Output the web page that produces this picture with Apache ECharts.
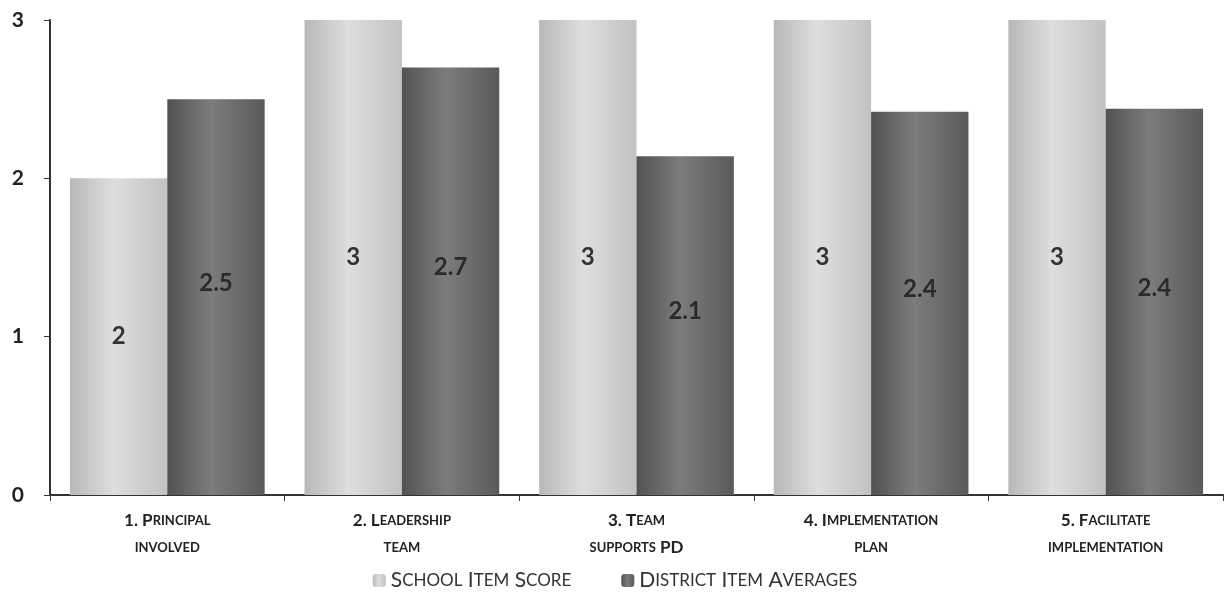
<!DOCTYPE html>
<html>
<head>
<meta charset="utf-8">
<script src="https://cdn.jsdelivr.net/npm/echarts@6/dist/echarts.min.js"></script>
<style>
  html, body { margin: 0; padding: 0; background: #fff; }
  #chart { width: 1230px; height: 602px; }
</style>
</head>
<body>
<div id="chart"></div>
<script>
// categories and values
const categories = [
  "1. Principal\ninvolved",
  "2. Leadership\nteam",
  "3. Team\nsupports PD",
  "4. Implementation\nplan",
  "5. Facilitate\nimplementation"
];
const schoolScore = [2, 3, 3, 3, 3];
const districtAvg = [2.5, 2.7, 2.14, 2.42, 2.44];
const yTicks = [0, 1, 2, 3];

// turn "Abc" into small caps with rich text: capitals/digits big, lowercase small
function smallCaps(text, big, small) {
  let out = "";
  let run = "";
  let cls = null;
  const flush = () => {
    if (run) out += "{" + cls + "|" + run + "}";
    run = "";
  };
  for (const ch of text) {
    if (ch === "\n") { flush(); out += "\n"; cls = null; continue; }
    const c = (ch >= "a" && ch <= "z") ? small : big;
    if (c !== cls) { flush(); cls = c; }
    run += ch.toUpperCase();
  }
  flush();
  return out;
}

const font = "Lato, 'Open Sans', sans-serif";

const schoolColor = new echarts.graphic.LinearGradient(0, 0, 1, 0, [
  { offset: 0, color: "#b8b8b8" },
  { offset: 0.45, color: "#dedede" },
  { offset: 1, color: "#c2c2c2" }
]);
const districtColor = new echarts.graphic.LinearGradient(0, 0, 1, 0, [
  { offset: 0, color: "#525252" },
  { offset: 0.45, color: "#7c7c7c" },
  { offset: 1, color: "#5a5a5a" }
]);

const chart = echarts.init(document.getElementById("chart"));
chart.setOption({
  animation: false,
  grid: { left: 50, right: 7, top: 20, bottom: 107 },
  legend: {
    bottom: 6,
    left: "center",
    itemWidth: 13,
    itemHeight: 13,
    itemGap: 50,
    formatter: (name) => smallCaps(name, "B", "S"),
    textStyle: {
      rich: {
        B: { fontFamily: font, fontSize: 21, color: "#333" },
        S: { fontFamily: font, fontSize: 17, color: "#333" }
      }
    }
  },
  xAxis: {
    type: "category",
    data: categories,
    axisLine: { lineStyle: { color: "#333", width: 2 } },
    axisTick: { show: true, length: 6, lineStyle: { color: "#333" } },
    axisLabel: {
      margin: 12,
      interval: 0,
      lineHeight: 27,
      formatter: (v) => smallCaps(v, "b", "s"),
      rich: {
        b: { fontFamily: font, fontWeight: "bold", fontSize: 17, color: "#222", lineHeight: 27 },
        s: { fontFamily: font, fontWeight: "bold", fontSize: 13, color: "#222", lineHeight: 27 }
      }
    }
  },
  yAxis: {
    type: "value",
    min: yTicks[0],
    max: yTicks[yTicks.length - 1],
    interval: 1,
    splitLine: { show: false },
    axisLine: { show: true, lineStyle: { color: "#333", width: 2 } },
    axisTick: { show: true, length: 6, lineStyle: { color: "#333" } },
    axisLabel: {
      margin: 26,
      fontFamily: font,
      fontWeight: "bold",
      fontSize: 21,
      color: "#222"
    }
  },
  series: [
    {
      name: "School Item Score",
      type: "bar",
      data: schoolScore,
      barGap: "0%",
      barCategoryGap: "17%",
      itemStyle: { color: schoolColor },
      label: {
        show: true,
        position: "inside",
        fontFamily: font,
        fontWeight: "bold",
        fontSize: 24,
        color: "#333",
        formatter: (p) => p.value.toFixed(0)
      }
    },
    {
      name: "District Item Averages",
      type: "bar",
      data: districtAvg,
      itemStyle: { color: districtColor },
      label: {
        show: true,
        position: "inside",
        offset: [0, -14],
        fontFamily: font,
        fontWeight: "bold",
        fontSize: 24,
        color: "#2a2a2a",
        formatter: (p) => (Math.floor(p.value * 10) / 10).toFixed(1)
      }
    }
  ]
});
</script>
</body>
</html>
